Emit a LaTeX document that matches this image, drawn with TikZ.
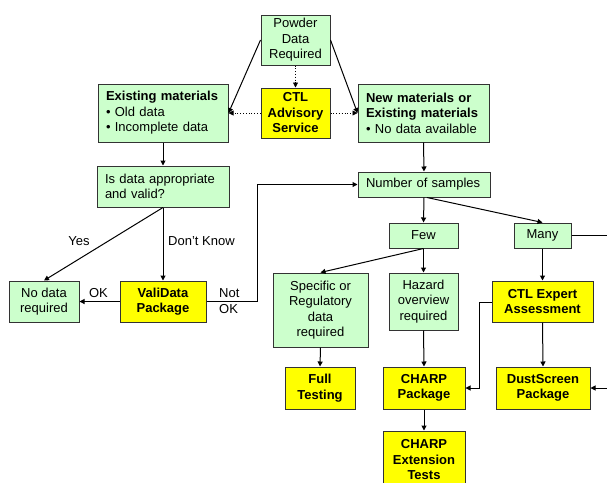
\documentclass[tikz,border=0pt]{standalone}
\usepackage{fontspec}
\setmainfont{Liberation Sans}
\usetikzlibrary{arrows.meta}
\definecolor{boxgreen}{HTML}{CCFFCC}
\definecolor{boxyellow}{HTML}{FFFF00}
\definecolor{boxedge}{HTML}{333333}
\begin{document}
\begin{tikzpicture}[x=1pt,y=-1pt,
  base/.style={draw=boxedge,line width=1pt,inner sep=0pt,align=center,
    font=\fontsize{13}{15.5}\selectfont},
  gbox/.style={base,fill=boxgreen},
  ybox/.style={base,fill=boxyellow,font=\fontsize{13}{15.5}\selectfont\bfseries},
  arr/.style={line width=1pt,-{Triangle[length=5pt,width=5pt]}},
  dotarr/.style={line width=0.8pt,dotted,-{Triangle[length=5pt,width=5pt]}},
  plain/.style={line width=1pt},
  lbl/.style={font=\fontsize{13}{15.5}\selectfont,inner sep=0pt}
]
\useasboundingbox (0,0) rectangle (607,482);
\fill[white] (0,0) rectangle (607,482);

\node[gbox,minimum width=69pt,minimum height=50pt] (powder) at (295.5,40) {Powder\\Data\\Required};
\node[ybox,minimum width=69pt,minimum height=50pt] (ctl) at (295.5,113) {CTL\\Advisory\\Service};
\node[gbox,minimum width=130pt,minimum height=58pt,text width=114pt,align=left] (exist) at (163,113)
  {\textbf{Existing materials}\\• Old data\\• Incomplete data};
\node[gbox,minimum width=132pt,minimum height=41pt,text width=116pt,align=left] (isdata) at (163,186.5)
  {Is data appropriate\\and valid?};
\node[gbox,minimum width=131pt,minimum height=58pt,text width=115pt,align=left] (new) at (423.5,113)
  {\textbf{New materials or}\\\textbf{Existing materials}\\• No data available};
\node[gbox,minimum width=132pt,minimum height=25pt,text width=116pt,align=left] (num) at (424,184.5) {Number of samples};
\node[gbox,minimum width=69pt,minimum height=25pt] (few) at (423.5,235.5) {Few};
\node[gbox,minimum width=57pt,minimum height=25pt] (many) at (542.5,235.5) {Many};
\node[gbox,minimum width=70pt,minimum height=41pt] (nodata) at (44,301.5) {No data\\required};
\node[ybox,minimum width=86pt,minimum height=41pt] (vali) at (163,301.5) {ValiData\\Package};
\node[gbox,minimum width=95pt,minimum height=74pt] (spec) at (320.5,310) {Specific or\\Regulatory\\data\\required};
\node[gbox,minimum width=69pt,minimum height=57pt] (hazard) at (423.5,301.5) {Hazard\\overview\\required};
\node[ybox,minimum width=101pt,minimum height=41pt] (expert) at (542.5,301.5) {CTL Expert\\Assessment};
\node[ybox,minimum width=70pt,minimum height=42pt] (full) at (320,388) {Full\\Testing};
\node[ybox,minimum width=82pt,minimum height=42pt] (charp) at (424,388) {CHARP\\Package};
\node[ybox,minimum width=94pt,minimum height=42pt] (dust) at (543,388) {DustScreen\\Package};
\node[ybox,minimum width=82pt,minimum height=58pt] (ext) at (424,460) {CHARP\\Extension\\Tests};

\coordinate (notok) at (257,301.5);
\coordinate (expbend) at (479,302);
\coordinate (manyout) at (607,235.5);
\coordinate (dustin) at (607,388);

% arrows from top
\draw[arr] (powder.west) -- (exist.east);
\draw[arr] (powder.east) -- (new.west);
\draw[dotarr] (powder.south) -- (ctl.north);
\draw[dotarr] (ctl.west) -- (exist.east);
\draw[dotarr] (ctl.east) -- (new.west);

% left branch
\draw[arr] (exist.south) -- (isdata.north);
\draw[arr] (isdata.south) -- (vali.north);
\draw[arr] (isdata.south) -- (nodata.north);
\draw[arr] (vali.west) -- (nodata.east);
\draw[arr] (vali.east) -- (notok) |- (num.west);

\node[lbl] (yes) at (79,241) {Yes};
\node[lbl,anchor=west] (dk) at (168,241) {Don’t Know};
\node[lbl] (ok) at (98.5,293) {OK};
\node[lbl,anchor=north west,align=left] (notoklbl) at (219,288.5) {Not\\OK};

% right branch
\draw[arr] (new.south) -- (num.north);
\draw[arr] (num.south) -- (few.north);
\draw[arr] ([xshift=3pt]num.south) -- (many.north);
\draw[arr] (few.south) -- (spec.north);
\draw[arr] (few.south) -- (hazard.north);
\draw[arr] (spec.south) -- (full.north);
\draw[arr] (hazard.south) -- (charp.north);
\draw[arr] (charp.south) -- (ext.north);
\draw[arr] (many.south) -- (expert.north);
\draw[arr] (expert.south) -- (dust.north);
\draw[arr] (expert.west |- expbend) -- (expbend) |- (charp.east);
\draw[plain] (many.east) -- (manyout);
\draw[arr] (dustin) -- (dust.east);
\end{tikzpicture}
\end{document}
